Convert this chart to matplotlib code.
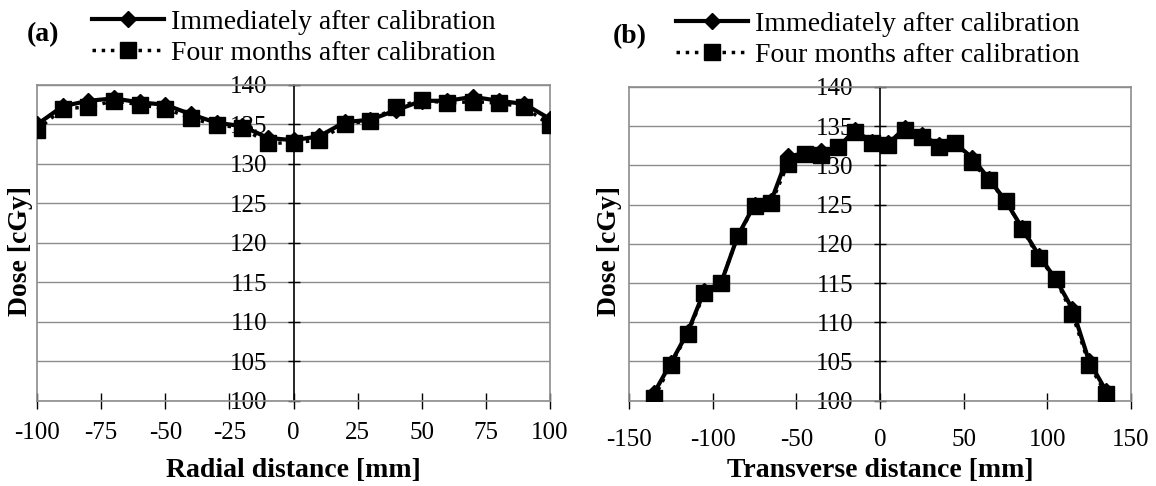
import matplotlib.pyplot as plt

plt.rcParams["font.family"] = ["Liberation Serif", "DejaVu Serif"]
plt.rcParams["axes.unicode_minus"] = False

# panel (a): radial profile
radial_x = [-100, -90, -80, -70, -60, -50, -40, -30, -20, -10, 0,
            10, 20, 30, 40, 50, 60, 70, 80, 90, 100]
radial_now = [135.0, 137.3, 138.0, 138.3, 137.8, 137.5, 136.3, 135.2, 134.8, 133.3, 133.0,
              133.5, 135.3, 135.6, 136.8, 138.0, 138.0, 138.5, 138.0, 137.6, 135.7]
radial_4m = [134.3, 137.0, 137.2, 138.0, 137.5, 137.0, 135.8, 134.9, 134.6, 132.6, 132.7,
             133.0, 135.0, 135.5, 137.2, 138.1, 137.7, 137.9, 137.7, 137.2, 134.9]

# panel (b): transverse profile
trans_x = [-135, -125, -115, -105, -95, -85, -75, -65, -55, -45, -35, -25, -15, -5,
           5, 15, 25, 35, 45, 55, 65, 75, 85, 95, 105, 115, 125, 135]
trans_now = [101.0, 104.8, 108.7, 114.0, 115.0, 121.0, 125.0, 125.5, 131.2, 131.5, 131.8,
             132.3, 134.5, 133.0, 132.8, 134.8, 133.9, 132.6, 132.8, 131.0, 128.3, 125.5,
             122.0, 118.5, 115.5, 111.7, 105.0, 101.3]
trans_4m = [100.3, 104.6, 108.5, 113.7, 115.0, 121.0, 124.8, 125.2, 130.2, 131.4, 131.3,
            132.3, 134.3, 132.8, 132.6, 134.5, 133.6, 132.3, 132.8, 130.4, 128.1, 125.5,
            121.9, 118.2, 115.5, 111.0, 104.6, 100.9]

labels = ["Immediately after calibration", "Four months after calibration"]
GRID = "#8c8c8c"
W, H = 1156, 486

fig = plt.figure(figsize=(11.56, 4.86), dpi=100)
ax_a = fig.add_axes([37 / W, 1 - 400.7 / H, 513 / W, 315.7 / H])
ax_b = fig.add_axes([629 / W, 1 - 400.7 / H, 502 / W, 313.7 / H])

panels = [
    (ax_a, radial_x, radial_now, radial_4m, (-100, 100), range(-100, 101, 25),
     "Radial distance [mm]", "(a)", 10.0, 0.107, 0.011),
    (ax_b, trans_x, trans_now, trans_4m, (-150, 150), range(-150, 151, 50),
     "Transverse distance [mm]", "(b)", 15.0, 0.094, 0.001),
]

for ax, x, y_now, y_4m, xlim, xt, xlabel, tag, xpad, leg_x, tag_x in panels:
    l1, = ax.plot(x, y_now, color="black", lw=3, marker="D", ms=8, zorder=3)
    l2, = ax.plot(x, y_4m, color="black", lw=2.5, ls=":", marker="s", ms=11, zorder=4)
    ax.set_xlim(*xlim)
    ax.set_ylim(100, 140)
    ax.set_xticks(list(xt))
    ax.set_yticks(range(100, 141, 5))
    ax.grid(axis="y", color=GRID, lw=1)
    ax.set_axisbelow(True)

    # y axis crosses at x = 0, frame box in gray
    ax.spines["left"].set_position(("data", 0))
    ax.spines["left"].set_color("black")
    ax.spines["left"].set_linewidth(1.2)
    for s in ["top", "right", "bottom"]:
        ax.spines[s].set_color(GRID)
        ax.spines[s].set_linewidth(1.2)
    ax.axvline(xlim[0], color=GRID, lw=1.2, clip_on=False)

    ax.tick_params(axis="both", direction="inout", width=1, labelsize=18, color="black")
    ax.tick_params(axis="y", length=9, pad=14.5)
    ax.tick_params(axis="x", length=11, pad=xpad)
    ax.set_xlabel(xlabel, fontsize=20, fontweight="bold", va="center")
    ax.xaxis.set_label_coords(0.5, -69.3 / ax.get_position().height / H)

    ax.legend([l1, l2], labels, loc="lower left", bbox_to_anchor=(leg_x, 1.06),
              frameon=False, fontsize=20, handlelength=2.6, handletextpad=0.25,
              labelspacing=0.2, borderpad=0, borderaxespad=0)
    ax.text(tag_x, 1.16, tag, transform=ax.transAxes, fontsize=20,
            fontweight="bold", ha="center", va="center")

fig.text(20.7 / W, 1 - 251 / H, "Dose [cGy]", rotation=90, fontsize=20,
         fontweight="bold", ha="center", va="center")
fig.text(609 / W, 1 - 251 / H, "Dose [cGy]", rotation=90, fontsize=20,
         fontweight="bold", ha="center", va="center")

fig.savefig("out.png", dpi=100)
